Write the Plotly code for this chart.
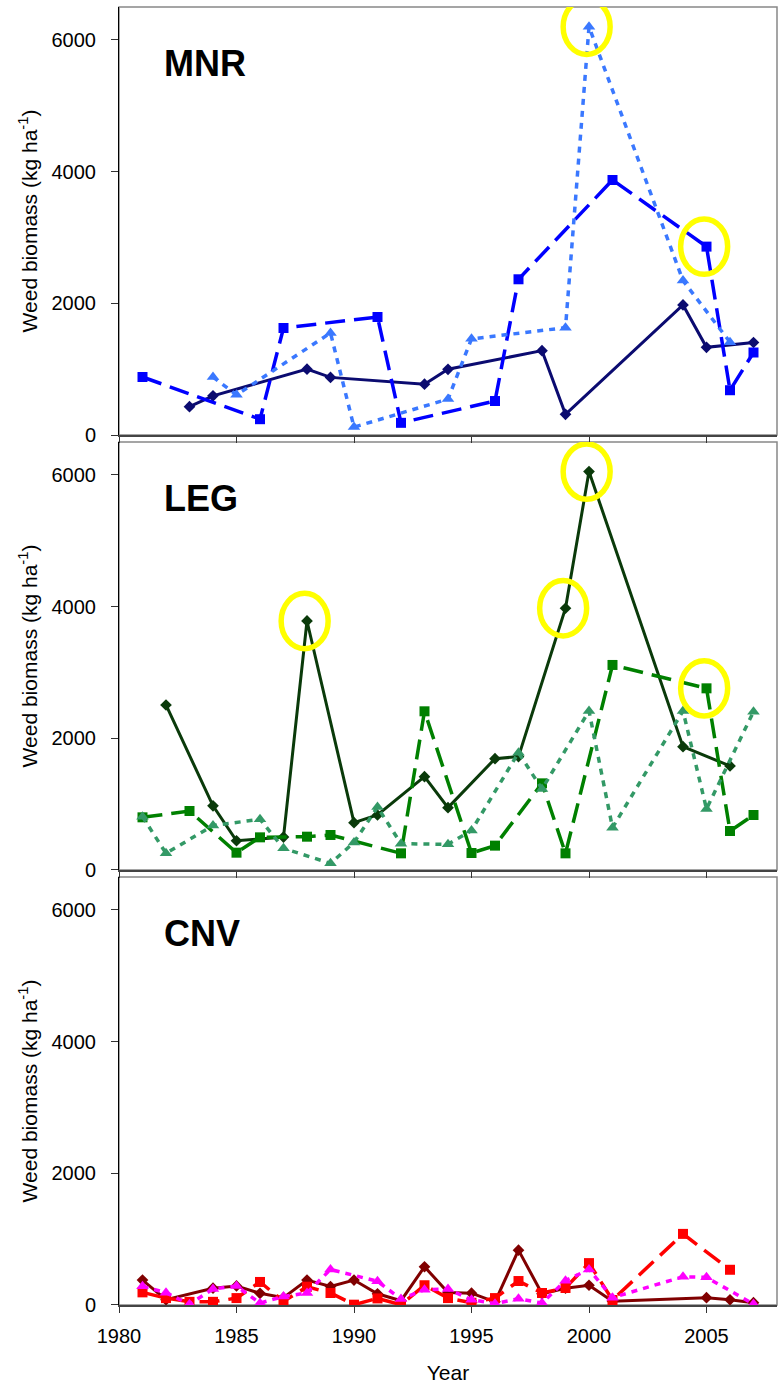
import plotly.graph_objects as go

# ---------------- data ----------------
mnr_solid_years = [1983, 1984, 1988, 1989, 1993, 1994, 1998, 1999, 2004, 2005, 2007]
mnr_solid_vals = [430, 595, 1000, 875, 772, 998, 1281, 314, 1975, 1332, 1405]
mnr_dash_years = [1981, 1986, 1987, 1991, 1992, 1996, 1997, 2001, 2005, 2006, 2007]
mnr_dash_vals = [881, 240, 1625, 1792, 185, 516, 2365, 3873, 2861, 680, 1253]
mnr_dot_years = [1984, 1985, 1989, 1990, 1994, 1995, 1999, 2000, 2004, 2006]
mnr_dot_vals = [880, 610, 1550, 120, 545, 1460, 1630, 6200, 2345, 1410]

leg_solid_years = [1982, 1984, 1985, 1987, 1988, 1990, 1991, 1993, 1994, 1996, 1997, 1999, 2000, 2004, 2006]
leg_solid_vals = [2506, 975, 444, 500, 3782, 719, 835, 1418, 947, 1690, 1722, 3975, 6051, 1873, 1580]
leg_dash_years = [1981, 1983, 1985, 1986, 1988, 1989, 1992, 1993, 1995, 1996, 1998, 1999, 2001, 2005, 2006, 2007]
leg_dash_vals = [800, 896, 263, 496, 506, 532, 253, 2410, 258, 370, 1316, 253, 3114, 2759, 592, 835]
leg_dot_years = [1981, 1982, 1984, 1986, 1987, 1989, 1990, 1991, 1992, 1994, 1995, 1997, 1998, 2000, 2001, 2004, 2005, 2007]
leg_dot_vals = [810, 253, 675, 770, 329, 101, 418, 955, 400, 390, 600, 1782, 1230, 2415, 643, 2415, 927, 2405]

cnv_solid_years = [1981, 1982, 1984, 1985, 1986, 1987, 1988, 1989, 1990, 1991, 1992, 1993, 1994, 1995,
                   1996, 1997, 1998, 1999, 2000, 2001, 2005, 2006, 2007]
cnv_solid_vals = [379, 80, 255, 290, 177, 111, 379, 280, 379, 170, 65, 581, 190, 180,
                  48, 833, 170, 255, 300, 58, 111, 80, 35]
cnv_dash_years = [1981, 1982, 1983, 1984, 1985, 1986, 1987, 1988, 1989, 1990, 1991, 1992, 1993, 1994,
                  1995, 1996, 1997, 1998, 1999, 2000, 2001, 2004, 2006]
cnv_dash_vals = [192, 105, 48, 48, 105, 350, 55, 278, 182, 5, 100, 5, 300, 105,
                 35, 105, 364, 182, 258, 636, 76, 1080, 535]
cnv_dot_years = [1981, 1982, 1983, 1984, 1985, 1986, 1987, 1988, 1989, 1991, 1992, 1993, 1994, 1995,
                 1996, 1997, 1998, 1999, 2000, 2001, 2004, 2005, 2007]
cnv_dot_vals = [283, 187, 12, 242, 288, 28, 130, 182, 540, 360, 90, 232, 242, 80,
                20, 96, 30, 370, 540, 112, 429, 420, 15]

panel_names = ["MNR", "LEG", "CNV"]
x_ticks = [1980, 1985, 1990, 1995, 2000, 2005]
y_ticks = [0, 2000, 4000, 6000]

# highlighted points: (panel index, series key, year)
highlights = [(0, "dot", 2000), (0, "dash", 2005),
              (1, "solid", 1988), (1, "solid", 1999), (1, "solid", 2000), (1, "dash", 2005)]

# ---------------- styling ----------------
FONT = "Liberation Sans, Arial, sans-serif"
panels = [
    {"solid": (mnr_solid_years, mnr_solid_vals, "#0b0b70"),
     "dash": (mnr_dash_years, mnr_dash_vals, "#0000ff"),
     "dot": (mnr_dot_years, mnr_dot_vals, "#3a78ff")},
    {"solid": (leg_solid_years, leg_solid_vals, "#0a3a0a"),
     "dash": (leg_dash_years, leg_dash_vals, "#008000"),
     "dot": (leg_dot_years, leg_dot_vals, "#339966")},
    {"solid": (cnv_solid_years, cnv_solid_vals, "#800000"),
     "dash": (cnv_dash_years, cnv_dash_vals, "#ff0000"),
     "dot": (cnv_dot_years, cnv_dot_vals, "#ff00ff")},
]
styles = {
    "solid": dict(dash="solid", width=3, symbol="diamond", size=9),
    "dash": dict(dash="20px,9px", width=3.5, symbol="square", size=10),
    "dot": dict(dash="6px,6px", width=3.5, symbol="triangle-up", size=11),
}

domains = [[0.67026, 1.0], [0.33513, 0.66487], [0.0, 0.32974]]

fig = go.Figure()
layout = dict(
    width=781, height=1384,
    margin=dict(l=119, r=4, t=7, b=79),
    paper_bgcolor="white", plot_bgcolor="white",
    showlegend=False,
    font=dict(family=FONT, size=20, color="black"),
)
shapes = []
annotations = []

for i, pdata in enumerate(panels):
    sfx = "" if i == 0 else str(i + 1)
    xa, ya = "x" + sfx, "y" + sfx
    for key in ["solid", "dash", "dot"]:
        yrs, vals, col = pdata[key]
        st = styles[key]
        fig.add_trace(go.Scatter(
            x=yrs, y=vals, xaxis=xa, yaxis=ya, mode="lines+markers",
            line=dict(color=col, width=st["width"], dash=st["dash"]),
            marker=dict(symbol=st["symbol"], size=st["size"], color=col,
                        line=dict(width=0)),
            hoverinfo="skip",
        ))
    xdict = dict(
        domain=[0, 1], anchor=ya, range=[1980, 2008],
        tickvals=x_ticks, ticks="outside", ticklen=6, tickcolor="#333", tickwidth=1,
        showline=True, linecolor="#444", linewidth=1.5,
        showgrid=False, zeroline=False,
        showticklabels=(i == 2), automargin=False,
        tickfont=dict(size=20, family=FONT),
        ticklabelstandoff=6,
    )
    if i == 2:
        xdict["title"] = dict(text="Year", font=dict(size=21, family=FONT), standoff=22)
    layout["xaxis" + sfx] = xdict
    layout["yaxis" + sfx] = dict(
        domain=domains[i], anchor=xa, range=[0, 6500],
        tickvals=y_ticks, ticks="outside", ticklen=7, tickcolor="#333", tickwidth=1,
        showline=True, linecolor="black", linewidth=1,
        showgrid=False, zeroline=False, automargin=False,
        tickfont=dict(size=20, family=FONT),
        ticklabelstandoff=11,
        title=dict(text="Weed biomass (kg ha<sup>-1</sup>)", font=dict(size=21, family=FONT), standoff=8),
    )
    shapes.append(dict(type="rect", xref=xa + " domain", yref=ya + " domain",
                       x0=0, x1=1, y0=0, y1=1, line=dict(color="#888", width=1.5),
                       layer="below"))
    annotations.append(dict(text="<b>%s</b>" % panel_names[i], xref=xa + " domain",
                            yref=ya + " domain", x=0.066, y=0.868, xanchor="left",
                            yanchor="middle", showarrow=False,
                            font=dict(size=36, family=FONT, color="black")))

# yellow highlight rings
for (pi, key, yr) in highlights:
    yrs, vals, _ = panels[pi][key]
    v = vals[yrs.index(yr)]
    sfx = "" if pi == 0 else str(pi + 1)
    shapes.append(dict(type="circle", xref="x" + sfx, yref="y" + sfx,
                       x0=yr - 1.1, x1=yr + 0.9, y0=v - 420, y1=v + 420,
                       line=dict(color="#ffff00", width=5.5), layer="above"))

layout["shapes"] = shapes
layout["annotations"] = annotations
fig.update_layout(**layout)
fig.write_html("out.html",
               config={"displayModeBar": False},
               post_script="document.body.style.margin='0';document.body.style.overflow='hidden';")
